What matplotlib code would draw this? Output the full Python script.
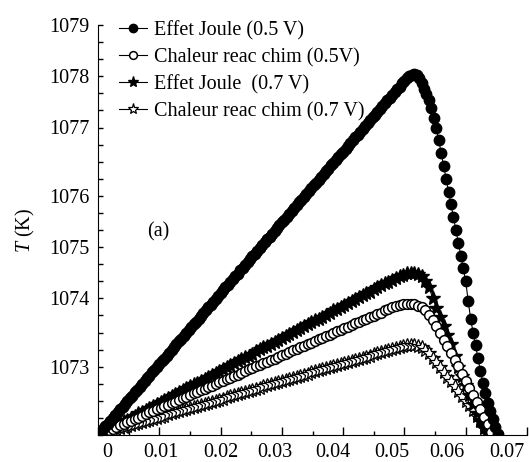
import numpy as np
import matplotlib.pyplot as plt

plt.rcParams['font.family'] = ['Liberation Serif', 'DejaVu Serif']
plt.rcParams['mathtext.fontset'] = 'custom'
plt.rcParams['mathtext.rm'] = 'Liberation Serif'
plt.rcParams['mathtext.it'] = 'Liberation Serif:italic'

# x sampling step of each run
step_05 = 0.0004
step_07 = 0.0006

# Effet Joule (0.5 V)
joule_05 = [
    1071.00, 1071.06, 1071.11, 1071.17, 1071.22, 1071.28, 1071.33, 1071.39, 1071.44, 1071.50,
    1071.55, 1071.61, 1071.66, 1071.72, 1071.77, 1071.83, 1071.88, 1071.94, 1072.00, 1072.05,
    1072.11, 1072.16, 1072.22, 1072.27, 1072.33, 1072.38, 1072.44, 1072.49, 1072.55, 1072.60,
    1072.66, 1072.71, 1072.77, 1072.83, 1072.88, 1072.94, 1072.99, 1073.05, 1073.10, 1073.16,
    1073.21, 1073.27, 1073.32, 1073.38, 1073.43, 1073.49, 1073.54, 1073.60, 1073.66, 1073.71,
    1073.77, 1073.82, 1073.88, 1073.93, 1073.99, 1074.04, 1074.10, 1074.15, 1074.21, 1074.26,
    1074.32, 1074.37, 1074.43, 1074.49, 1074.54, 1074.60, 1074.65, 1074.71, 1074.76, 1074.82,
    1074.87, 1074.93, 1074.98, 1075.04, 1075.09, 1075.15, 1075.20, 1075.26, 1075.32, 1075.37,
    1075.43, 1075.48, 1075.54, 1075.59, 1075.65, 1075.70, 1075.76, 1075.81, 1075.87, 1075.92,
    1075.98, 1076.03, 1076.09, 1076.15, 1076.20, 1076.26, 1076.31, 1076.37, 1076.42, 1076.48,
    1076.53, 1076.59, 1076.64, 1076.70, 1076.75, 1076.81, 1076.86, 1076.92, 1076.98, 1077.03,
    1077.09, 1077.14, 1077.20, 1077.25, 1077.31, 1077.36, 1077.42, 1077.47, 1077.53, 1077.58,
    1077.64, 1077.69, 1077.75, 1077.80, 1077.86, 1077.91, 1077.96, 1078.00, 1078.03, 1078.04,
    1078.02, 1077.96, 1077.86, 1077.76, 1077.66, 1077.54, 1077.38, 1077.18, 1077.00, 1076.75,
    1076.50, 1076.25, 1076.00, 1075.75, 1075.50, 1075.25, 1075.00, 1074.75, 1074.50, 1074.25,
    1074.00, 1073.62, 1073.27, 1073.00, 1072.75, 1072.50, 1072.25, 1072.02, 1071.82, 1071.63,
    1071.46, 1071.31, 1071.16, 1071.02,
]

# Chaleur reac chim (0.5V)
chaleur_05 = [
    1071.00, 1071.03, 1071.06, 1071.09, 1071.12, 1071.16, 1071.19, 1071.22, 1071.25, 1071.28,
    1071.31, 1071.34, 1071.37, 1071.40, 1071.44, 1071.47, 1071.50, 1071.53, 1071.56, 1071.59,
    1071.62, 1071.65, 1071.68, 1071.72, 1071.75, 1071.78, 1071.81, 1071.84, 1071.87, 1071.90,
    1071.93, 1071.96, 1072.00, 1072.03, 1072.06, 1072.09, 1072.12, 1072.15, 1072.18, 1072.21,
    1072.24, 1072.28, 1072.31, 1072.34, 1072.37, 1072.40, 1072.43, 1072.46, 1072.49, 1072.52,
    1072.56, 1072.59, 1072.62, 1072.65, 1072.68, 1072.71, 1072.74, 1072.77, 1072.80, 1072.83,
    1072.87, 1072.90, 1072.93, 1072.96, 1072.99, 1073.02, 1073.05, 1073.08, 1073.11, 1073.15,
    1073.18, 1073.21, 1073.24, 1073.27, 1073.30, 1073.33, 1073.36, 1073.39, 1073.43, 1073.46,
    1073.49, 1073.51, 1073.53, 1073.55, 1073.56, 1073.56, 1073.55, 1073.52, 1073.49, 1073.43,
    1073.35, 1073.25, 1073.12, 1072.99, 1072.86, 1072.73, 1072.60, 1072.47, 1072.34, 1072.20,
    1072.06, 1071.92, 1071.78, 1071.64, 1071.50, 1071.36, 1071.22, 1071.05,
]

# Effet Joule  (0.7 V)
joule_07 = [
    1071.00, 1071.04, 1071.08, 1071.11, 1071.15, 1071.19, 1071.23, 1071.27, 1071.30, 1071.34,
    1071.38, 1071.42, 1071.45, 1071.49, 1071.53, 1071.57, 1071.61, 1071.64, 1071.68, 1071.72,
    1071.76, 1071.80, 1071.83, 1071.87, 1071.91, 1071.95, 1071.99, 1072.02, 1072.06, 1072.10,
    1072.14, 1072.17, 1072.21, 1072.25, 1072.29, 1072.33, 1072.36, 1072.40, 1072.44, 1072.48,
    1072.52, 1072.55, 1072.59, 1072.63, 1072.67, 1072.71, 1072.74, 1072.78, 1072.82, 1072.86,
    1072.90, 1072.93, 1072.97, 1073.01, 1073.05, 1073.08, 1073.12, 1073.16, 1073.20, 1073.24,
    1073.27, 1073.31, 1073.35, 1073.39, 1073.43, 1073.46, 1073.50, 1073.54, 1073.58, 1073.62,
    1073.65, 1073.69, 1073.73, 1073.77, 1073.80, 1073.84, 1073.88, 1073.92, 1073.96, 1073.99,
    1074.03, 1074.06, 1074.10, 1074.13, 1074.16, 1074.17, 1074.17, 1074.14, 1074.10, 1074.00,
    1073.88, 1073.68, 1073.48, 1073.30, 1073.13, 1072.96, 1072.77, 1072.55, 1072.33, 1072.15,
    1071.97, 1071.78, 1071.60, 1071.43, 1071.28, 1071.14, 1071.02,
]

# Chaleur reac chim (0.7 V)
chaleur_07 = [
    1071.00, 1071.02, 1071.04, 1071.06, 1071.08, 1071.11, 1071.13, 1071.15, 1071.17, 1071.19,
    1071.21, 1071.23, 1071.25, 1071.27, 1071.29, 1071.32, 1071.34, 1071.36, 1071.38, 1071.40,
    1071.42, 1071.44, 1071.46, 1071.48, 1071.50, 1071.53, 1071.55, 1071.57, 1071.59, 1071.61,
    1071.63, 1071.65, 1071.67, 1071.69, 1071.71, 1071.74, 1071.76, 1071.78, 1071.80, 1071.82,
    1071.84, 1071.86, 1071.88, 1071.90, 1071.92, 1071.95, 1071.97, 1071.99, 1072.01, 1072.03,
    1072.05, 1072.07, 1072.09, 1072.11, 1072.13, 1072.16, 1072.18, 1072.20, 1072.22, 1072.24,
    1072.26, 1072.28, 1072.30, 1072.32, 1072.34, 1072.37, 1072.39, 1072.41, 1072.43, 1072.45,
    1072.47, 1072.49, 1072.51, 1072.53, 1072.55, 1072.58, 1072.60, 1072.62, 1072.64, 1072.66,
    1072.68, 1072.70, 1072.72, 1072.74, 1072.75, 1072.76, 1072.76, 1072.74, 1072.71, 1072.66,
    1072.60, 1072.51, 1072.42, 1072.33, 1072.23, 1072.14, 1072.05, 1071.96, 1071.86, 1071.77,
    1071.67, 1071.58, 1071.48, 1071.38, 1071.29, 1071.19, 1071.10, 1071.01,
]

labels = ['Effet Joule (0.5 V)', 'Chaleur reac chim (0.5V)',
          'Effet Joule  (0.7 V)', 'Chaleur reac chim (0.7 V)']

# y axis as printed in the figure: ticks every 1/3, labels not evenly spaced
ytick_pos = [1079, 1078, 1077, 1071 + 14 / 3, 1071 + 11 / 3, 1071 + 8 / 3, 1071 + 4 / 3]
ytick_lab = ['1079', '1078', '1077', '1076', '1075', '1074', '1073']
# x labels as printed (they drift from their tick marks)
xlab_pos = [0.0015, 0.0102, 0.0200, 0.0289, 0.0383, 0.0479, 0.0569, 0.0667]
xlab_txt = ['0', '0.01', '0.02', '0.03', '0.04', '0.05', '0.06', '0.07']

x05 = np.arange(len(joule_05)) * step_05
x05c = np.arange(len(chaleur_05)) * step_07
x07 = np.arange(len(joule_07)) * step_07
x07c = np.arange(len(chaleur_07)) * step_07

fig = plt.figure(figsize=(5.29, 4.62), dpi=100)
ax = fig.add_axes([98 / 529, 27 / 462, 429 / 529, 410 / 462])

ax.plot(x07c, chaleur_07, '-*', color='k', lw=0.8, ms=10, mfc='white', mec='k', mew=0.9, label=labels[3])
ax.plot(x07, joule_07, '-*', color='k', lw=0.8, ms=10, mfc='k', mec='k', label=labels[2])
ax.plot(x05c, chaleur_05, '-o', color='k', lw=0.8, ms=7, mfc='white', mec='k', mew=1.1, label=labels[1])
ax.plot(x05, joule_05, '-o', color='k', lw=0.8, ms=7.5, mfc='k', mec='k', label=labels[0])

ax.set_xlim(0, 0.07)
ax.set_ylim(1071, 1079)
ax.spines['top'].set_visible(False)
ax.spines['right'].set_visible(False)

ax.set_xticks(np.arange(0, 0.0701, 0.01), labels=[])
ax.set_xticks(np.arange(0.005, 0.07, 0.01), minor=True)
ax.set_yticks(ytick_pos, labels=ytick_lab, fontsize=14.5)
ax.set_yticks(np.arange(1071, 1079.01, 1 / 3), minor=True)
ax.tick_params(axis='x', which='major', direction='in', length=6, width=1)
ax.tick_params(axis='x', which='minor', direction='in', length=3, width=1)
ax.tick_params(axis='y', which='both', direction='in', length=3.5, width=1, pad=6)

sec = ax.secondary_xaxis('bottom')
sec.set_xticks(xlab_pos, labels=xlab_txt, fontsize=14.5)
sec.tick_params(length=0, pad=6)
sec.spines['bottom'].set_visible(False)

ax.set_ylabel(r'$T$ (K)', fontsize=14.5, labelpad=9)
ax.text(0.14, 0.495, '(a)', transform=ax.transAxes, fontsize=14.5, ha='center', va='center')

h, l = ax.get_legend_handles_labels()
ax.legend(h[::-1], l[::-1], loc='upper left', bbox_to_anchor=(119 / 529, 441 / 462),
          bbox_transform=fig.transFigure, frameon=False, fontsize=14.5, borderpad=0,
          borderaxespad=0, handlelength=1.4, handletextpad=0.35, labelspacing=0.38,
          markerscale=0.8)

fig.savefig('out.png', dpi=100)
